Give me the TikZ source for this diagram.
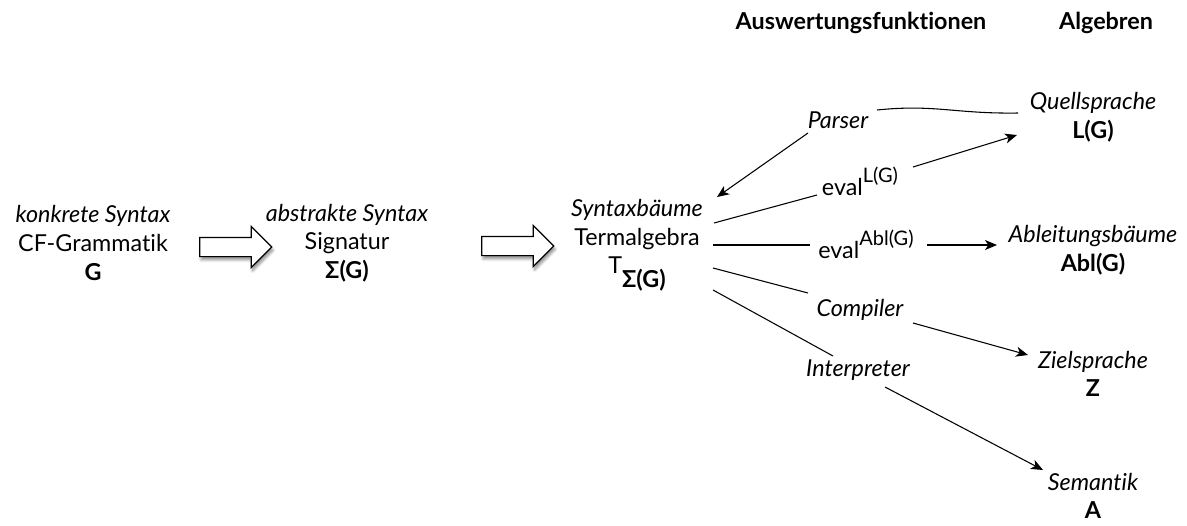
\documentclass[tikz,border=0pt]{standalone}
\usepackage{fontspec}
\setmainfont{Lato}[Ligatures={NoCommon,NoRare,NoContextual},RawFeature={-dlig;-calt;-clig}]
\usetikzlibrary{arrows.meta,shapes.arrows,shadows.blur}
\tikzset{
  txt/.style={align=center,inner sep=0pt,font=\fontsize{17.5}{21.5}\selectfont},
  lbl/.style={inner sep=0pt,font=\fontsize{17.5}{21.5}\selectfont\itshape},
  hdr/.style={inner sep=0pt,font=\fontsize{17.5}{21.5}\selectfont\bfseries},
  con/.style={line width=0.8pt},
  arr/.style={line width=0.8pt,-{Stealth[length=9pt,width=7.5pt,inset=2.5pt]}},
  blockarrow/.style={single arrow,draw=black,line width=0.9pt,fill=white,
    minimum height=54pt,minimum width=30pt,single arrow head extend=8.25pt,
    inner sep=6.75pt,blur shadow={shadow xshift=1pt,shadow yshift=-2.5pt,shadow blur steps=6,shadow opacity=45}},
}
\begin{document}
\begin{tikzpicture}[x=0.75pt,y=-0.75pt]
\useasboundingbox (0,0) rectangle (1187,525);
% headers
\node[hdr] (hfun) at (861,23) {Auswertungsfunktionen};
\node[hdr] (halg) at (1106,23) {Algebren};
% main nodes
\node[txt] (konk) at (93,243) {\textit{konkrete Syntax}\\CF-Grammatik\\\textbf{G}};
\node[txt] (abst) at (347,243) {\textit{abstrakte Syntax}\\Signatur\\\textbf{Σ(G)}};
\node[txt,anchor=north] (term) at (637,199) {\textit{Syntaxbäume}\\Termalgebra\\T\raisebox{-1.2ex}{\textbf{Σ(G)}}};
\node[blockarrow] (ba1) at (231,247) {};
\node[blockarrow] (ba2) at (513,246) {};
% right nodes
\node[txt] (quell) at (1093,117) {\textit{Quellsprache}\\\textbf{L(G)}};
\node[txt] (ableit) at (1093,250) {\textit{Ableitungsbäume}\\\textbf{Abl(G)}};
\node[txt] (ziel) at (1093,374) {\textit{Zielsprache}\\\textbf{Z}};
\node[txt] (sem) at (1093,496) {\textit{Semantik}\\\textbf{A}};
% function labels
\node[lbl] (parser) at (838,120) {Parser};
\node[txt] (evall) at (860,181) {eval\raisebox{1.1ex}{\fontsize{15}{15}\selectfont L(G)}};
\node[txt] (evalabl) at (866,244) {eval\raisebox{1.1ex}{\fontsize{15}{15}\selectfont Abl(G)}};
\node[lbl] (comp) at (860,310) {Compiler};
\node[lbl] (interp) at (858,370) {Interpreter};
% endpoints
\coordinate (pq) at (1018,113);
\coordinate (pr) at (877,110);
\coordinate (pl) at (808,133);
\coordinate (pt) at (717,197);
\coordinate (l1) at (714,223);
\coordinate (l2) at (817,195);
\coordinate (l3) at (913,167);
\coordinate (l4) at (1017,135);
\coordinate (a1) at (713,245);
\coordinate (a2) at (810,245);
\coordinate (a3) at (927,245);
\coordinate (a4) at (997,245);
\coordinate (c1) at (713,268);
\coordinate (c2) at (808,293);
\coordinate (c3) at (913,323);
\coordinate (c4) at (1028,355);
\coordinate (i1) at (713,290);
\coordinate (i2) at (833,356);
\coordinate (i3) at (885,387);
\coordinate (i4) at (1043,470);
% connectors
\draw[con] (pq) .. controls (955,114) and (935,104) .. (pr);
\draw[arr] (pl) -- (pt);
\draw[con] (l1) -- (l2);
\draw[arr] (l3) -- (l4);
\draw[con] (a1) -- (a2);
\draw[arr] (a3) -- (a4);
\draw[con] (c1) -- (c2);
\draw[arr] (c3) -- (c4);
\draw[con] (i1) -- (i2);
\draw[arr] (i3) -- (i4);
\end{tikzpicture}
\end{document}
